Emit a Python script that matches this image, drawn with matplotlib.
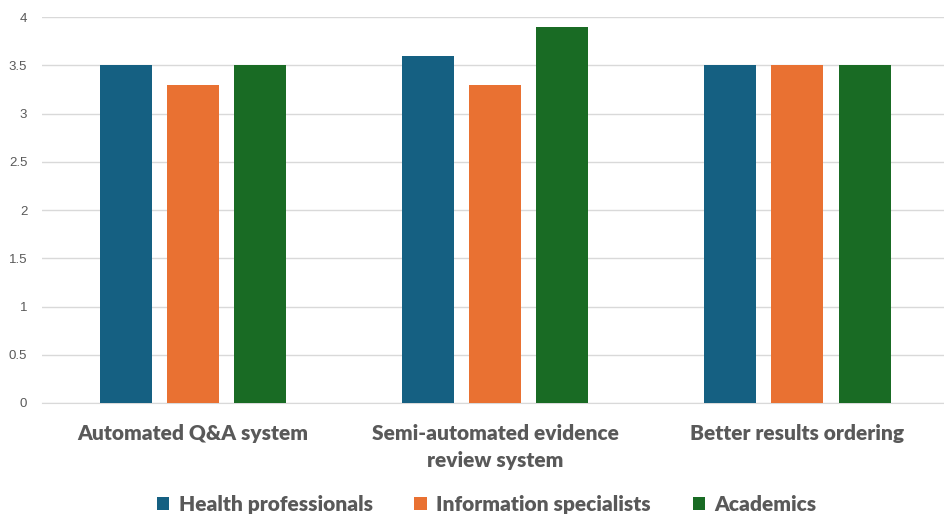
import matplotlib
matplotlib.use("Agg")
import matplotlib.pyplot as plt
import numpy as np

categories = ["Automated Q&A system", "Semi-automated evidence\nreview system", "Better results ordering"]
series_names = ["Health professionals", "Information specialists", "Academics"]
health = [3.5, 3.6, 3.5]
info = [3.3, 3.3, 3.5]
academics = [3.5, 3.9, 3.5]
colors = ["#156082", "#E97132", "#196B24"]
yticks = [0, 0.5, 1, 1.5, 2, 2.5, 3, 3.5, 4]
ytick_labels = ["0", "0.5", "1", "1.5", "2", "2.5", "3", "3.5", "4"]

plt.rcParams['font.family'] = ['Lato', 'DejaVu Sans']

fig = plt.figure(figsize=(9.45, 5.21), dpi=100)
ax = fig.add_axes([0.0443, 0.2265, 0.9595, 0.7405])

x = np.arange(len(categories))
w = 0.172
step = 0.222
for i, (vals, name, c) in enumerate(zip([health, info, academics], series_names, colors)):
    ax.bar(x + (i - 1) * step, vals, width=w, color=c, label=name, zorder=3)

ax.set_xlim(-0.5, 2.5)
ax.set_ylim(0, 4)
ax.set_yticks(yticks)
ax.set_yticklabels(ytick_labels, fontsize=9.5, color="#595959", family=['Liberation Sans', 'DejaVu Sans'])
ax.yaxis.grid(True, color="#d9d9d9", linewidth=1, zorder=0)
for s in ["top", "right", "left"]:
    ax.spines[s].set_visible(False)
ax.spines["bottom"].set_color("#d9d9d9")
ax.tick_params(axis="y", length=0, pad=10.5)
ax.tick_params(axis="x", length=0, pad=15)
ax.set_xticks(x)
ax.set_xticklabels(categories, fontsize=15, fontweight="heavy", color="#595959", linespacing=1.5)

handles, labels = ax.get_legend_handles_labels()
leg = fig.legend(handles, labels, loc="lower center", bbox_to_anchor=(0.515, -0.022), ncol=3,
                 frameon=False, fontsize=15, handlelength=0.6, handleheight=0.6,
                 handletextpad=0.45, columnspacing=2.0)
for t in leg.get_texts():
    t.set_color("#595959")
    t.set_fontweight("heavy")

fig.savefig("out.png", dpi=100)
